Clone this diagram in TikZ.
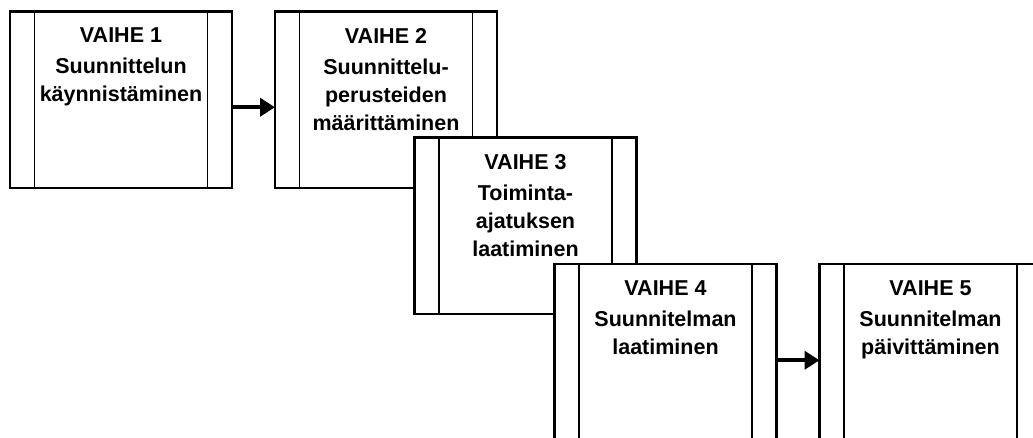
\documentclass[tikz,border=0pt]{standalone}
\usepackage{fontspec}
\setmainfont{Liberation Sans}
\usetikzlibrary{arrows.meta}
\begin{document}
\begin{tikzpicture}[x=1pt,y=-1pt,
  phase/.style={draw=black, line width=2.4pt, fill=white,
    minimum width=222pt, minimum height=176.5pt, inner sep=0pt,
    anchor=north west, outer sep=0pt,
    path picture={
      \draw[line width=1.8pt]
        ([xshift=24.5pt]path picture bounding box.north west) --
        ([xshift=24.5pt]path picture bounding box.south west);
      \draw[line width=1.8pt]
        ([xshift=-24.5pt]path picture bounding box.north east) --
        ([xshift=-24.5pt]path picture bounding box.south east);
    }},
  phasetext/.style={anchor=north, align=center, inner sep=0pt,
    font=\bfseries\fontsize{21.5}{28}\selectfont},
  flow/.style={line width=4pt, -{Triangle[length=15pt,width=18pt]}}
]
\useasboundingbox (0,0) rectangle (1033,437);
\clip (0,0) rectangle (1033,437);

% phase boxes, later ones overlapping the earlier ones
\node[phase] (b1) at (10,11.5) {};
\node[phasetext] (t1) at (121,28) {VAIHE 1\\[3pt]Suunnittelun\\käynnistäminen};

\node[phase] (b2) at (275,11.5) {};
\node[phasetext] (t2) at (386,28) {VAIHE 2\\[3pt]Suunnittelu-\\perusteiden\\määrittäminen};

\node[phase] (b3) at (414.5,137.5) {};
\node[phasetext] (t3) at (525.5,154) {VAIHE 3\\[3pt]Toiminta-\\ajatuksen\\laatiminen};

\node[phase] (b4) at (554.5,264) {};
\node[phasetext] (t4) at (665.5,280.5) {VAIHE 4\\[3pt]Suunnitelman\\laatiminen};

\node[phase] (b5) at (819.5,264) {};
\node[phasetext] (t5) at (930.5,280.5) {VAIHE 5\\[3pt]Suunnitelman\\päivittäminen};

% transitions
\draw[flow] ([yshift=-7.5pt]b1.east) -- ([yshift=-7.5pt]b1.east -| b2.west);
\draw[flow] ([yshift=-8pt]b4.east) -- ([yshift=-8pt]b4.east -| b5.west);
\end{tikzpicture}
\end{document}
